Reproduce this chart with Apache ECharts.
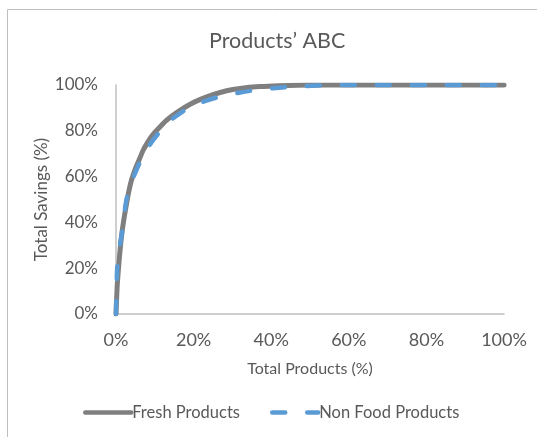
<!DOCTYPE html>
<html>
<head>
<meta charset="utf-8">
<script src="https://cdn.jsdelivr.net/npm/echarts@6/dist/echarts.min.js"></script>
<style>
  html, body { margin: 0; padding: 0; background: #fff; }
  #chart { width: 537px; height: 437px; }
</style>
</head>
<body>
<div id="chart"></div>
<script>
// Cumulative share of savings versus share of products (ABC curve)
const freshX = [0, 0.3, 0.6, 1, 1.5, 2, 2.7, 3.3, 4, 5, 6, 7, 8, 9, 10, 11.5, 13, 15, 17, 19, 21.6, 25, 28.5, 32, 37, 42, 50, 60, 70, 80, 90, 100];
const freshY = [0, 12, 19, 27, 35, 41, 48, 53.5, 58.5, 63.5, 67.5, 71.5, 74.5, 77.2, 79.3, 82, 84.5, 87.2, 89.5, 91.5, 93.6, 95.8, 97.5, 98.5, 99.3, 99.7, 100, 100, 100, 100, 100, 100];

const nonFoodX = [0, 0.3, 0.8, 1.5, 2, 2.7, 3.5, 4.3, 5.3, 6.5, 8, 9.6, 11.5, 14, 17, 20, 23.3, 27, 32, 36, 40.5, 45, 49, 55, 60, 70, 80, 90, 100];
const nonFoodY = [0, 20, 28, 35, 42, 50, 55, 59, 63, 67.5, 72, 76, 80, 84.5, 88.2, 91, 93.2, 95, 96.7, 97.8, 98.6, 99.2, 99.6, 99.9, 100, 100, 100, 100, 100];

const seriesNames = ['Fresh Products', 'Non Food Products'];
const axisTicks = [0, 20, 40, 60, 80, 100];

const pairs = (xs, ys) => xs.map((x, i) => [x, ys[i]]);
const FONT = 'Lato';
const TEXT = '#595959';

const chart = echarts.init(document.getElementById('chart'), null, { renderer: 'canvas' });
chart.setOption({
  animation: false,
  backgroundColor: '#fff',
  title: {
    text: 'Products\u2019 ABC',
    left: 204,
    top: 25,
    textStyle: { fontFamily: FONT, fontSize: 21.5, fontWeight: 'normal', color: TEXT }
  },
  graphic: [{
    type: 'rect',
    shape: { x: 7.5, y: 9.5, width: 560, height: 460 },
    style: { fill: 'none', stroke: '#bfbfbf', lineWidth: 1 },
    silent: true
  }],
  grid: { left: 116, right: 33, top: 85, bottom: 123 },
  legend: {
    bottom: 11,
    left: 78,
    itemWidth: 46,
    itemHeight: 10,
    itemGap: 30,
    itemStyle: { opacity: 0 },
    lineStyle: { width: 4.5, cap: 'round' },
    textStyle: { fontFamily: FONT, fontSize: 16.5, color: TEXT, padding: [0, 0, 0, -4] },
    data: seriesNames
  },
  xAxis: {
    type: 'value',
    min: axisTicks[0],
    max: axisTicks[axisTicks.length - 1],
    interval: 20,
    name: 'Total Products (%)',
    nameLocation: 'middle',
    nameGap: 47,
    nameTextStyle: { fontFamily: FONT, fontSize: 16, color: TEXT },
    axisLine: { lineStyle: { color: '#bfbfbf', width: 1.5 } },
    axisTick: { show: false },
    splitLine: { show: false },
    axisLabel: { formatter: '{value}%', fontFamily: FONT, fontSize: 18, color: TEXT, margin: 17 }
  },
  yAxis: {
    type: 'value',
    min: axisTicks[0],
    max: axisTicks[axisTicks.length - 1],
    interval: 20,
    name: 'Total Savings (%)',
    nameLocation: 'middle',
    nameGap: 66,
    nameMoveOverlap: false,
    nameTextStyle: { fontFamily: FONT, fontSize: 17, color: TEXT },
    axisLine: { show: true, lineStyle: { color: '#bfbfbf', width: 1.5 } },
    axisTick: { show: false },
    splitLine: { show: false },
    axisLabel: { formatter: '{value}%', fontFamily: FONT, fontSize: 17, color: TEXT, margin: 18 }
  },
  series: [
    {
      name: seriesNames[0],
      type: 'line',
      data: pairs(freshX, freshY),
      smooth: 0.25,
      symbol: 'none',
      lineStyle: { color: '#7f7f7f', width: 5, cap: 'round', join: 'round' },
      itemStyle: { color: '#7f7f7f' }
    },
    {
      name: seriesNames[1],
      type: 'line',
      data: pairs(nonFoodX, nonFoodY),
      smooth: 0.25,
      symbol: 'none',
      lineStyle: { color: '#5b9bd5', width: 4.5, type: [13, 22], cap: 'round', join: 'round' },
      itemStyle: { color: '#5b9bd5' }
    }
  ]
});
</script>
</body>
</html>
